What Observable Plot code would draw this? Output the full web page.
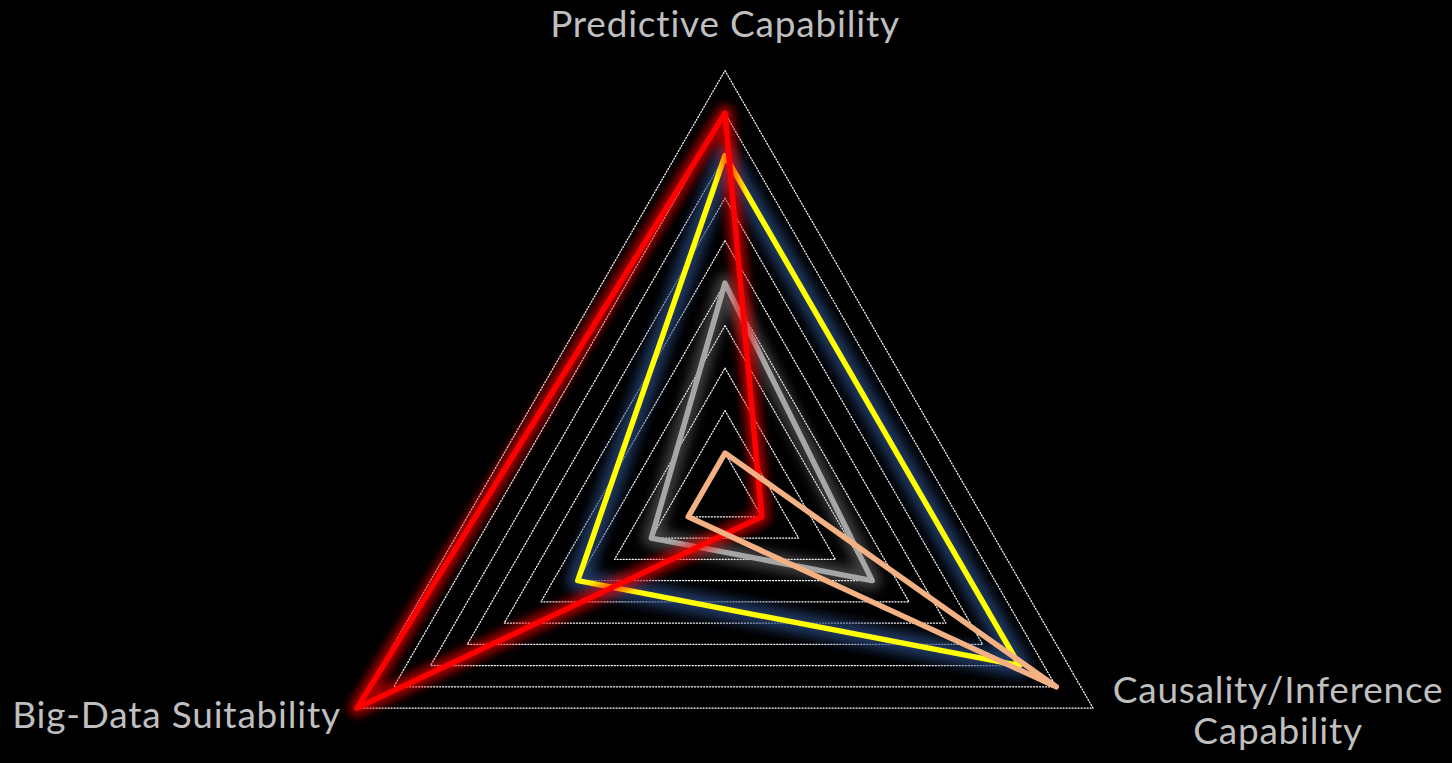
<!DOCTYPE html>
<html>
<head>
<meta charset="utf-8">
<script src="https://cdn.jsdelivr.net/npm/d3@7"></script>
<script src="https://cdn.jsdelivr.net/npm/@observablehq/plot@0.6"></script>
<style>
  html, body { margin: 0; padding: 0; background: #000; overflow: hidden; }
  #chart { width: 1452px; height: 763px; }
</style>
</head>
<body>
<div id="chart"></div>
<script>
// ---- Data ----
const axisLabels = ["Predictive Capability", "Causality/Inference\nCapability", "Big-Data Suitability"];
const gridLevels = [0.1, 0.2, 0.3, 0.4, 0.5, 0.6, 0.7, 0.8, 0.9, 1.0];
const yellowValues = [0.8, 0.8, 0.4];
const grayValues = [0.5, 0.4, 0.2];
const redValues = [0.9, 0.1, 1.0];
const peachValues = [0.1, 0.9, 0.1];

// ---- Layout (pixels) ----
const W = 1452, H = 763;
const cx = 724.5, cy = 495.1, R = 425;

const angle = i => (90 - i * 120) * Math.PI / 180;
const px = (r, i) => r * Math.cos(angle(i));
const py = (r, i) => r * Math.sin(angle(i));

const toPts = (vals, name) => vals.map((v, i) => ({series: name, axis: i, r: v}));
const yellow = toPts(yellowValues, "yellow");
const gray = toPts(grayValues, "gray");
const red = toPts(redValues, "red");
const peach = toPts(peachValues, "peach");
const grid = gridLevels.flatMap(l => axisLabels.map((_, i) => ({level: l, axis: i, r: l})));
const labels = axisLabels.map((t, i) => ({text: t, axis: i, r: 1}));

const X = d => px(d.r, d.axis);
const Y = d => py(d.r, d.axis);

const polyLine = (data, color, extra = {}) => Plot.line(data, {
  x: X, y: Y, curve: "linear-closed", stroke: color, strokeWidth: 5.5,
  strokeLinejoin: "round", strokeLinecap: "round", ...extra
});

const font = {fill: "#bfbfbf", fontSize: 37, fontFamily: "Lato"};

const plot = Plot.plot({
  width: W, height: H,
  marginTop: 0, marginRight: 0, marginBottom: 0, marginLeft: 0,
  x: {domain: [-cx / R, (W - cx) / R], axis: null},
  y: {domain: [-(H - cy) / R, cy / R], axis: null},
  style: {background: "#000", overflow: "visible"},
  marks: [
    Plot.line(grid, {x: X, y: Y, z: "level", curve: "linear-closed", stroke: "#ffffff",
      strokeWidth: 1.2, strokeDasharray: "1.2,1.8"}),
    polyLine(yellow, "#284478", {strokeWidth: 22, strokeOpacity: 0.8, ariaDescription: "glow-yellow"}),
    polyLine(yellow, "#ffff00"),
    polyLine(gray, "#a0a0a0", {strokeWidth: 18, strokeOpacity: 0.4, ariaDescription: "glow-gray"}),
    polyLine(gray, "#a6a6a6"),
    polyLine(red, "#ff0000", {strokeWidth: 16, strokeOpacity: 0.65, ariaDescription: "glow-red"}),
    polyLine(red, "#ff0000"),
    polyLine(peach, "#f4b183"),
    Plot.text(labels.filter(d => d.axis === 0), {x: X, y: Y, text: "text", textAnchor: "middle",
      lineAnchor: "bottom", dy: -34, ...font}),
    Plot.text(labels.filter(d => d.axis === 1), {x: X, y: Y, text: "text", textAnchor: "middle",
      lineAnchor: "bottom", lineHeight: 1.11, dx: 185, dy: 36, ...font}),
    Plot.text(labels.filter(d => d.axis === 2), {x: X, y: Y, text: "text", textAnchor: "end",
      lineAnchor: "bottom", dx: -16, dy: 20, ...font})
  ]
});

// Glow filters and label spacing
const svg = d3.select(plot);
const defs = svg.insert("defs", ":first-child");
[["glow-yellow", 6], ["glow-gray", 6], ["glow-red", 5]].forEach(([id, s]) => {
  defs.append("filter").attr("id", "f-" + id)
    .attr("x", "-20%").attr("y", "-20%").attr("width", "140%").attr("height", "140%")
    .append("feGaussianBlur").attr("stdDeviation", s);
  svg.selectAll(`[aria-description="${id}"]`).attr("filter", `url(#f-${id})`);
});
svg.selectAll("text").style("letter-spacing", "0.8px");

document.getElementById("chart").append(plot);
</script>
</body>
</html>
